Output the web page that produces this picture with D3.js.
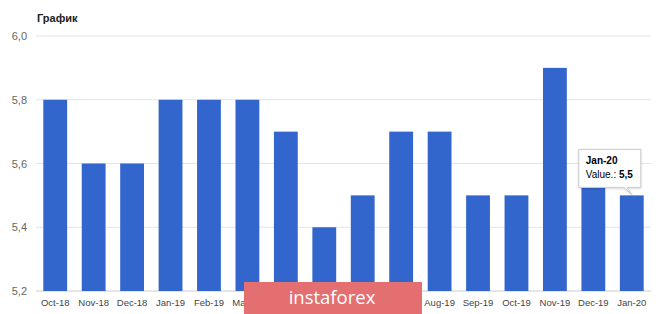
<!DOCTYPE html>
<html>
<head>
<meta charset="utf-8">
<script src="https://cdn.jsdelivr.net/npm/d3@7"></script>
<style>
  body { margin: 0; background: #fff; }
  svg { display: block; font-family: Arial, "Liberation Sans", sans-serif; }
</style>
</head>
<body>
<div id="chart"></div>
<script>
// Данные графика
var months = ["Oct-18", "Nov-18", "Dec-18", "Jan-19", "Feb-19", "Mar-19", "Apr-19", "May-19",
  "Jun-19", "Jul-19", "Aug-19", "Sep-19", "Oct-19", "Nov-19", "Dec-19", "Jan-20"];
var values = [5.8, 5.6, 5.6, 5.8, 5.8, 5.8, 5.7, 5.4, 5.5, 5.7, 5.7, 5.5, 5.5, 5.9, 5.6, 5.5];
var yTicks = [5.2, 5.4, 5.6, 5.8, 6.0];

var W = 665, H = 314;
var margin = { top: 36, right: 14, bottom: 23, left: 36 };
var width = W - margin.left - margin.right,
  height = H - margin.top - margin.bottom;

var svg = d3.select("#chart").append("svg")
  .attr("width", W)
  .attr("height", H);

svg.append("text")
  .attr("x", 37)
  .attr("y", 22)
  .attr("font-size", 11)
  .attr("font-weight", "bold")
  .attr("fill", "#222")
  .text("График");

var g = svg.append("g")
  .attr("transform", "translate(" + margin.left + "," + margin.top + ")");

var x = d3.scaleBand().domain(months).range([0, width]).paddingInner(0.38).paddingOuter(0.19);
var y = d3.scaleLinear().domain([5.2, 6.0]).range([height, 0]);
var fmt = function (d) { return d3.format(".1f")(d).replace(".", ","); };

// Сетка
g.selectAll(".grid")
  .data(yTicks)
  .enter()
  .append("line")
  .attr("x1", 0)
  .attr("x2", width)
  .attr("y1", function (d) { return y(d); })
  .attr("y2", function (d) { return y(d); })
  .attr("stroke", function (d) { return d === 5.2 ? "#cccccc" : "#e4e4e4"; })
  .attr("stroke-width", 1);

// Ось Y
var yAxis = g.append("g").call(d3.axisLeft(y).tickValues(yTicks).tickFormat(fmt).tickSize(0).tickPadding(9));
yAxis.select(".domain").remove();
yAxis.selectAll("text").attr("font-size", 11).attr("fill", "#666").attr("font-family", "Arial, 'Liberation Sans', sans-serif");

// Столбцы
g.selectAll(".bar")
  .data(values)
  .enter()
  .append("rect")
  .attr("x", function (d, i) { return x(months[i]); })
  .attr("y", function (d) { return y(d); })
  .attr("width", x.bandwidth())
  .attr("height", function (d) { return height - y(d); })
  .attr("fill", "#3366cc");

// Ось X
var xAxis = g.append("g")
  .attr("transform", "translate(0," + height + ")")
  .call(d3.axisBottom(x).tickSize(0).tickPadding(8));
xAxis.select(".domain").remove();
xAxis.selectAll("text").attr("font-size", 9.5).attr("fill", "#444").attr("font-family", "Arial, 'Liberation Sans', sans-serif");

// Подсказка для Jan-20
var last = months.length - 1;
var tx = x(months[last]) + x.bandwidth() / 2;
var ty = y(values[last]);
var tip = g.append("g");
var bx = tx - 53, by = ty - 46, bw = 62, bh = 38;
tip.append("path")
  .attr("d", "M" + bx + "," + by + "h" + bw + "v" + bh + "h-14l" + (tx - (bx + bw - 14)) + "," + 7 +
    "l-8,-7H" + bx + "Z")
  .attr("fill", "#fff")
  .attr("stroke", "#ccc")
  .attr("stroke-width", 1)
  .style("filter", "drop-shadow(0px 1px 1px rgba(0,0,0,0.15))");
tip.append("text")
  .attr("x", bx + 7)
  .attr("y", by + 15)
  .attr("font-size", 10)
  .attr("font-weight", "bold")
  .attr("fill", "#000")
  .text(months[last]);
var t2 = tip.append("text")
  .attr("x", bx + 7)
  .attr("y", by + 29)
  .attr("font-size", 10)
  .attr("fill", "#000");
t2.append("tspan").text("Value.: ");
t2.append("tspan").attr("font-weight", "bold").text(fmt(values[last]));

// Водяной знак
svg.append("rect")
  .attr("x", 244)
  .attr("y", 282)
  .attr("width", 178)
  .attr("height", 32)
  .attr("fill", "#e36f70");
svg.append("text")
  .attr("x", 332)
  .attr("y", 304)
  .attr("text-anchor", "middle")
  .attr("font-size", 18.5)
  .attr("fill", "#fff")
  .attr("font-family", "'Open Sans', sans-serif")
  .text("instaforex");
</script>
</body>
</html>
